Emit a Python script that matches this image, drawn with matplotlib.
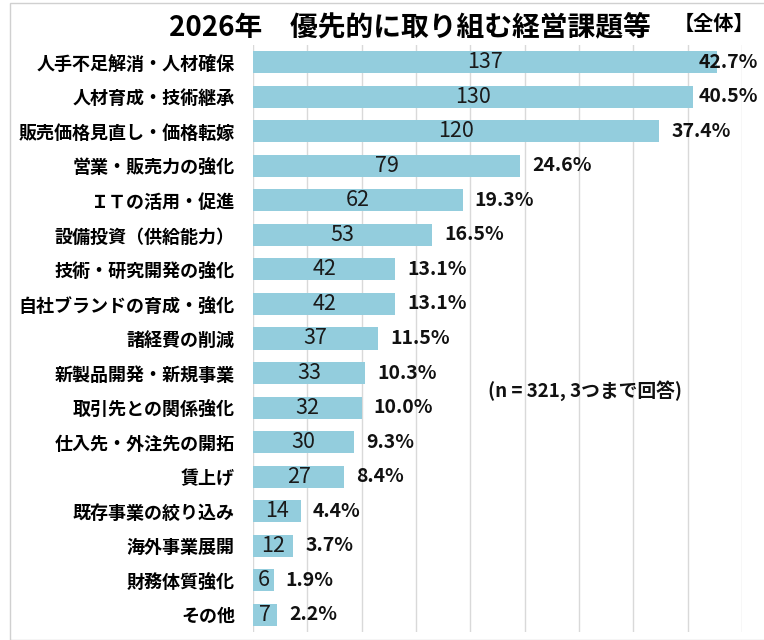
import matplotlib
matplotlib.use("Agg")
import matplotlib.pyplot as plt
from matplotlib.patches import Rectangle

plt.rcParams['font.family'] = ['Noto Sans CJK JP', 'DejaVu Sans']

categories = ["人手不足解消・人材確保", "人材育成・技術継承", "販売価格見直し・価格転嫁",
              "営業・販売力の強化", "ＩＴの活用・促進", "設備投資（供給能力）",
              "技術・研究開発の強化", "自社ブランドの育成・強化", "諸経費の削減",
              "新製品開発・新規事業", "取引先との関係強化", "仕入先・外注先の開拓",
              "賃上げ", "既存事業の絞り込み", "海外事業展開", "財務体質強化", "その他"]
counts = [137, 130, 120, 79, 62, 53, 42, 42, 37, 33, 32, 30, 27, 14, 12, 6, 7]
percents = [42.7, 40.5, 37.4, 24.6, 19.3, 16.5, 13.1, 13.1, 11.5, 10.3, 10.0, 9.3, 8.4, 4.4, 3.7, 1.9, 2.2]

title = "2026年　優先的に取り組む経営課題等"
tag = "【全体】"
note = "(n = 321, 3つまで回答)"

fig = plt.figure(figsize=(7.64, 6.4), dpi=100)
ax = fig.add_axes([253/764, 8/640, 489/764, 587/640])

y = list(range(len(categories)))
ax.barh(y, percents, height=0.64, color='#93cddd', zorder=2)
ax.set_xlim(0, 45)
ax.set_ylim(len(categories) - 0.5, -0.5)
ax.set_xticks(range(0, 46, 5))
ax.xaxis.grid(True, color='#d9d9d9', linewidth=1.0, zorder=0)
ax.tick_params(axis='x', length=0, labelbottom=False)
ax.tick_params(axis='y', length=0, pad=13)
ax.set_yticks(y)
ax.set_yticklabels(categories, fontsize=13, fontweight='bold')
for s in ax.spines.values():
    s.set_visible(False)

for i, (c, p) in enumerate(zip(counts, percents)):
    ax.text(p / 2, i, str(c), ha='center', va='center', fontsize=15.5, color='#1a1a1a', zorder=3)
    ax.text(min(p + 1.1, 41.0), i, f"{p:.1f}%", ha='left', va='center', fontsize=14,
            fontweight='bold', color='#111111', zorder=3)

ax.text(21.6, 9.5, note, ha='left', va='center', fontsize=13.5, fontweight='bold', color='#111111')

fig.text(410/764, 1 - 27/640, title, ha='center', va='center', fontsize=20, fontweight='bold')
fig.text(714/764, 1 - 23/640, tag, ha='center', va='center', fontsize=14.5, fontweight='bold')

fig.patches.append(Rectangle((10/764, 0), 1, 1 - 3/640, transform=fig.transFigure,
                             fill=False, edgecolor='#d0d0d0', linewidth=1.0))

fig.savefig("out.png", dpi=100)
